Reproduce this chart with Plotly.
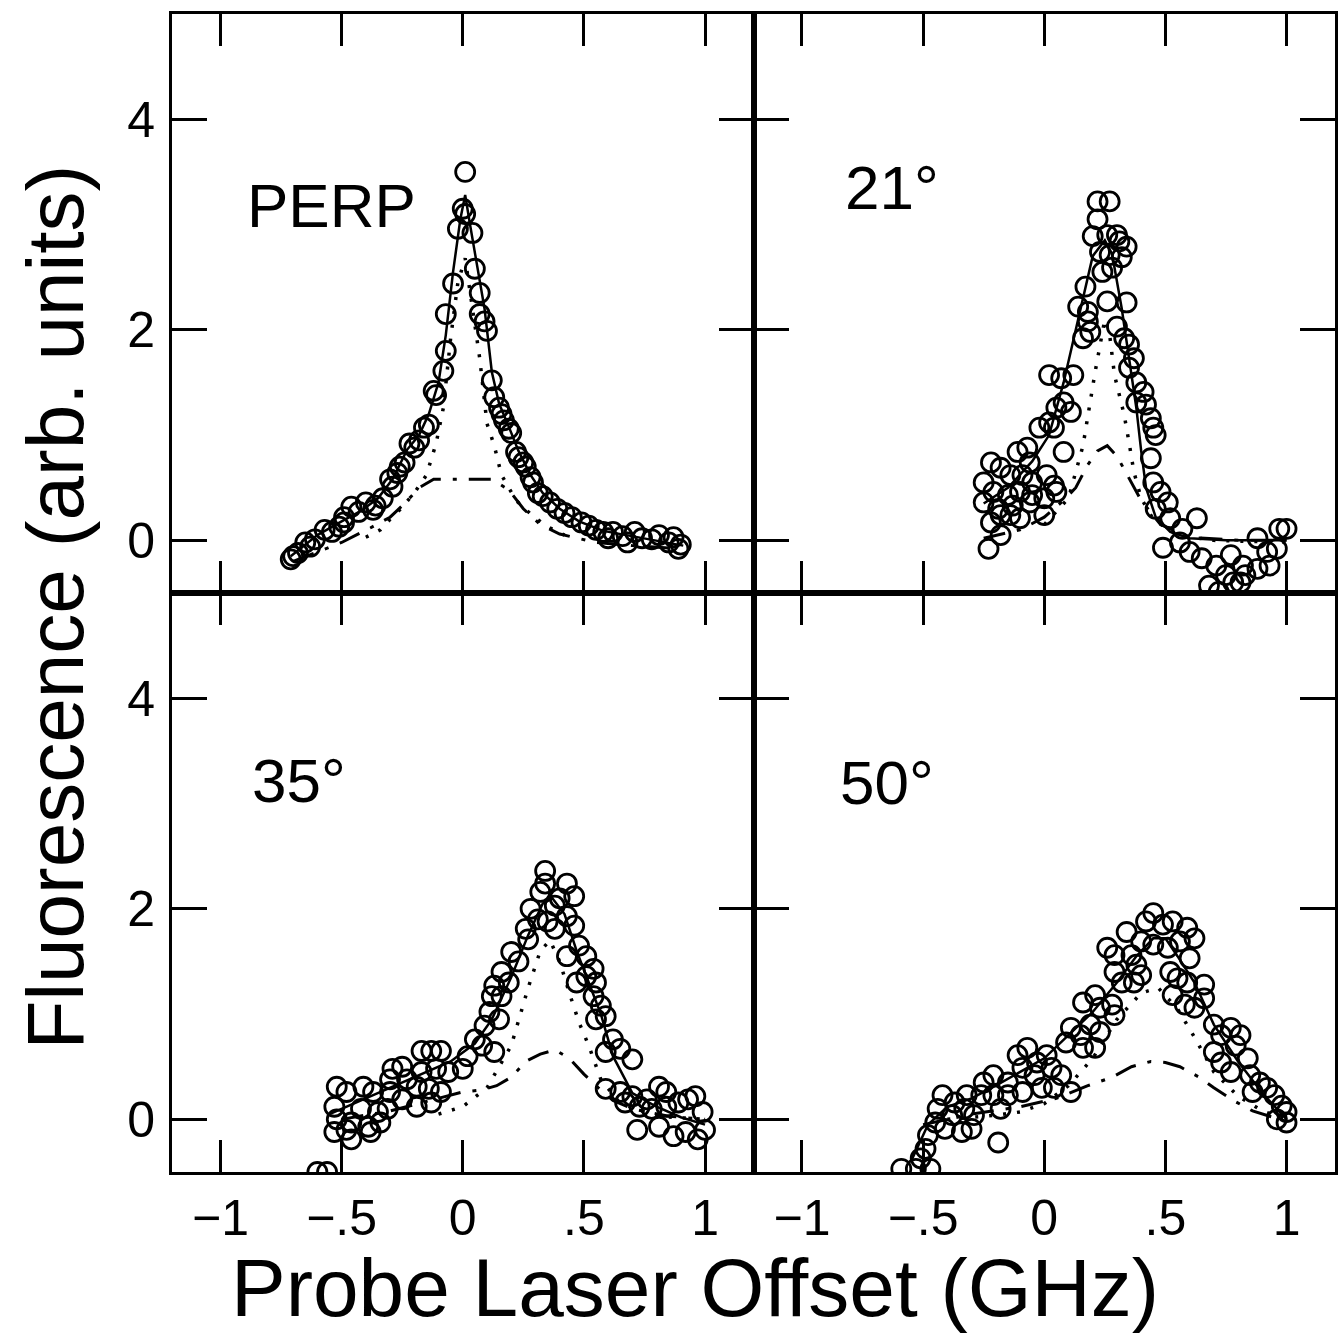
import plotly.graph_objects as go
from plotly.subplots import make_subplots

# ---------------- data ----------------
panel_labels = ["PERP", "21°", "35°", "50°"]
x_tickvals = [-1, -0.5, 0, 0.5, 1]
x_ticktext = ["\u22121", "\u2212.5", "0", ".5", "1"]
y_tickvals = [0, 2, 4]
y_ticktext = ["0", "2", "4"]

perp_pts = [(0.01,3.50),(0.0,3.15),(0.01,3.10),(-0.02,2.96),(0.04,2.92),(0.05,2.58),(-0.04,2.44),
            (0.07,2.35),(-0.07,2.15),(0.07,2.15),(0.09,2.08),(0.10,1.99),(-0.07,1.80),(-0.08,1.61),
            (0.12,1.52),(-0.12,1.42),(-0.11,1.38),(0.13,1.36),(0.15,1.26),(0.16,1.20),(-0.16,1.07),
            (-0.14,1.10),(0.17,1.14),(0.20,1.02),(0.19,1.06),(-0.22,0.92),(-0.18,0.95),(-0.20,0.88),
            (0.23,0.79),(0.22,0.84),(0.26,0.70),(0.25,0.74),(-0.26,0.70),(-0.24,0.74),(-0.27,0.64),
            (-0.30,0.58),(-0.29,0.51),(0.29,0.55),(0.28,0.60),(0.31,0.45),(0.33,0.42),(-0.33,0.40),
            (-0.36,0.33),(-0.46,0.32),(-0.40,0.36),(-0.37,0.29),(-0.43,0.27),(-0.49,0.22),(0.36,0.36),
            (0.39,0.30),(0.42,0.26),(0.45,0.22),(-0.57,0.10),(-0.51,0.13),(-0.49,0.17),(-0.54,0.08),
            (0.49,0.17),(0.52,0.14),(0.55,0.10),(0.58,0.08),(0.62,0.08),(0.66,0.04),(-0.65,-0.02),
            (-0.61,0.01),(-0.63,-0.06),(-0.70,-0.15),(-0.71,-0.18),(-0.68,-0.12),(0.71,0.08),(0.74,0.02),
            (0.78,0.01),(0.81,0.05),(0.85,-0.02),(0.87,0.03),(0.89,-0.08),(0.90,-0.04),(0.68,-0.02),(0.60,0.02)]
perp_fit_x = [-0.71,-0.6,-0.5,-0.42,-0.35,-0.29,-0.23,-0.18,-0.14,-0.10,-0.07,-0.04,-0.01,0.01,0.03,0.06,0.09,0.12,0.15,0.19,0.23,0.28,0.33,0.40,0.48,0.58,0.70,0.80,0.91]
perp_fit_y = [-0.15,0.05,0.18,0.28,0.40,0.58,0.86,1.0,1.2,1.5,1.95,2.55,3.05,3.28,3.0,2.6,2.2,1.6,1.3,1.08,0.85,0.62,0.45,0.30,0.18,0.09,0.04,0.0,-0.05]
perp_narrow_x = [-0.40,-0.34,-0.30,-0.26,-0.20,-0.15,-0.11,-0.08,-0.05,-0.02,0.01,0.04,0.07,0.10,0.13,0.16,0.22,0.29,0.35,0.42]
perp_narrow_y = [0.03,0.10,0.20,0.29,0.45,0.62,0.92,1.26,1.92,2.45,2.68,2.2,1.73,1.11,0.9,0.62,0.38,0.23,0.13,0.05]
perp_broad_x = [-0.70,-0.5,-0.38,-0.3,-0.24,-0.18,-0.12,0.0,0.12,0.19,0.25,0.32,0.40,0.55,0.7,0.9]
perp_broad_y = [-0.2,-0.02,0.12,0.22,0.35,0.50,0.58,0.58,0.58,0.48,0.30,0.15,0.06,-0.02,-0.05,-0.08]

a21_pts = [(0.22,3.22),(0.27,3.22),(0.22,3.05),(0.20,2.89),(0.26,2.90),(0.30,2.90),(0.31,2.84),(0.23,2.74),
           (0.27,2.71),(0.32,2.69),(0.34,2.79),(0.24,2.55),(0.28,2.59),(0.17,2.41),(0.26,2.27),(0.34,2.26),
           (0.14,2.22),(0.18,2.17),(0.18,2.08),(0.19,1.98),(0.16,1.92),(0.30,2.03),(0.33,1.92),(0.35,1.86),
           (0.37,1.73),(0.35,1.64),(0.02,1.57),(0.07,1.54),(0.12,1.57),(0.38,1.50),(0.41,1.41),(0.38,1.31),
           (0.42,1.29),(0.08,1.31),(0.11,1.22),(0.05,1.26),(0.44,1.16),(0.45,1.07),(0.46,1.00),(-0.02,1.07),
           (0.02,1.12),(0.04,1.07),(0.08,0.84),(-0.11,0.84),(-0.07,0.88),(-0.06,0.74),(0.44,0.78),(-0.22,0.74),
           (-0.18,0.69),(-0.14,0.62),(-0.09,0.62),(-0.05,0.55),(0.01,0.62),(0.04,0.52),(-0.25,0.55),(-0.21,0.46),
           (-0.15,0.43),(-0.10,0.46),(-0.05,0.43),(0.00,0.40),(0.05,0.46),(-0.25,0.36),(-0.19,0.30),(-0.13,0.33),
           (-0.06,0.36),(0.00,0.24),(-0.22,0.17),(-0.18,0.24),(-0.14,0.24),(-0.10,0.21),(-0.18,0.05),(-0.23,-0.08),
           (0.45,0.55),(0.48,0.46),(0.51,0.36),(0.46,0.30),(0.52,0.21),(0.57,0.11),(0.63,0.21),(0.56,-0.02),
           (0.49,-0.07),(0.60,-0.11),(0.65,-0.17),(0.71,-0.24),(0.77,-0.14),(0.75,-0.33),(0.68,-0.43),(0.72,-0.49),
           (0.81,-0.40),(0.88,0.02),(0.92,-0.11),(0.97,0.11),(1.00,0.11),(0.96,-0.08),(0.88,-0.27),(0.93,-0.24),
           (0.82,-0.24),(0.83,-0.33),(0.78,-0.40)]
a21_fit_x = [-0.25,-0.15,-0.05,0.02,0.08,0.14,0.20,0.25,0.28,0.32,0.35,0.38,0.40,0.42,0.46,0.52,0.60,0.75,1.0]
a21_fit_y = [0.35,0.50,0.75,1.0,1.5,2.1,2.7,2.85,2.72,2.2,1.75,1.26,0.85,0.5,0.22,0.08,0.02,0.0,0.0]
a21_narrow_x = [0.0,0.1,0.16,0.21,0.25,0.27,0.29,0.31,0.33,0.35,0.37,0.40,0.45,0.55,0.7,1.0]
a21_narrow_y = [0.15,0.4,0.9,1.6,2.1,1.95,1.57,1.38,1.19,0.93,0.65,0.4,0.2,0.05,0.0,-0.02]
a21_broad_x = [-0.25,-0.1,0.0,0.08,0.13,0.18,0.22,0.26,0.30,0.35,0.40,0.48,0.6,0.8,1.0]
a21_broad_y = [0.02,0.1,0.22,0.38,0.5,0.72,0.85,0.9,0.8,0.59,0.38,0.15,0.03,0.0,0.0]

a35_pts = [(0.34,2.36),(0.34,2.24),(0.32,2.16),(0.43,2.24),(0.46,2.12),(0.40,2.10),(0.38,2.03),(0.28,2.00),
           (0.31,1.90),(0.43,1.93),(0.46,1.84),(0.35,1.88),(0.38,1.81),(0.26,1.81),(0.27,1.71),(0.48,1.65),
           (0.51,1.55),(0.43,1.55),(0.20,1.59),(0.23,1.50),(0.54,1.43),(0.51,1.36),(0.47,1.30),(0.55,1.30),
           (0.16,1.40),(0.19,1.30),(0.13,1.27),(0.16,1.17),(0.12,1.17),(0.54,1.17),(0.57,1.08),(0.59,0.98),
           (0.55,0.95),(0.11,1.02),(0.15,0.95),(0.09,0.89),(0.62,0.76),(0.65,0.67),(0.59,0.64),(0.70,0.57),
           (0.05,0.76),(0.08,0.70),(0.13,0.64),(0.02,0.60),(-0.17,0.65),(-0.13,0.65),(-0.09,0.65),(0.00,0.48),
           (-0.06,0.45),(-0.11,0.48),(-0.17,0.45),(-0.29,0.48),(-0.25,0.50),(-0.30,0.38),(-0.23,0.38),(-0.19,0.31),
           (-0.14,0.29),(-0.09,0.26),(-0.30,0.26),(-0.25,0.19),(-0.19,0.12),(-0.13,0.16),(0.59,0.29),(0.65,0.26),
           (0.70,0.22),(0.76,0.19),(0.81,0.31),(0.84,0.26),(0.67,0.16),(0.73,0.12),(0.78,0.10),(0.84,0.12),
           (0.89,0.16),(0.93,0.19),(0.96,0.22),(0.72,-0.10),(0.81,-0.07),(0.87,-0.16),(0.92,-0.12),(0.97,-0.19),
           (1.00,-0.10),(0.99,0.07),(-0.52,0.31),(-0.48,0.26),(-0.41,0.31),(-0.37,0.26),(-0.53,0.12),(-0.42,0.10),
           (-0.35,0.07),(-0.31,0.10),(-0.52,0.00),(-0.46,-0.03),(-0.39,-0.07),(-0.34,-0.03),(-0.53,-0.12),
           (-0.46,-0.19),(-0.38,-0.12),(-0.48,-0.10),(-0.60,-0.50),(-0.56,-0.50)]
a35_fit_x = [-0.55,-0.45,-0.35,-0.25,-0.15,-0.05,0.05,0.12,0.2,0.27,0.33,0.37,0.42,0.47,0.52,0.57,0.62,0.7,0.8,0.9,1.0]
a35_fit_y = [0.05,0.15,0.25,0.35,0.45,0.55,0.72,0.95,1.35,1.75,2.05,2.1,1.95,1.6,1.3,1.0,0.6,0.25,0.12,0.02,-0.05]
a35_narrow_x = [-0.1,0.0,0.1,0.2,0.27,0.32,0.36,0.40,0.44,0.48,0.52,0.57,0.65,0.8,1.0]
a35_narrow_y = [0.05,0.12,0.3,0.7,1.25,1.6,1.7,1.5,1.2,0.92,0.7,0.38,0.15,0.03,0.0]
a35_broad_x = [-0.5,-0.3,-0.1,0.0,0.08,0.14,0.2,0.26,0.32,0.38,0.44,0.50,0.56,0.62,0.7,0.85,1.0]
a35_broad_y = [0.0,0.08,0.2,0.26,0.28,0.32,0.4,0.55,0.62,0.66,0.58,0.43,0.3,0.18,0.1,0.03,0.0]

a50_pts = [(0.45,1.96),(0.42,1.88),(0.49,1.85),(0.53,1.88),(0.34,1.78),(0.59,1.82),(0.62,1.72),(0.40,1.69),
           (0.45,1.66),(0.51,1.63),(0.56,1.69),(0.60,1.53),(0.26,1.63),(0.29,1.56),(0.36,1.56),(0.38,1.47),
           (0.52,1.40),(0.55,1.34),(0.59,1.30),(0.66,1.28),(0.29,1.40),(0.32,1.30),(0.37,1.30),(0.40,1.37),
           (0.53,1.18),(0.58,1.09),(0.62,1.06),(0.66,1.15),(0.16,1.11),(0.21,1.18),(0.23,1.06),(0.28,1.09),
           (0.29,0.99),(0.70,0.90),(0.73,0.80),(0.77,0.87),(0.81,0.80),(0.79,0.70),(0.11,0.87),(0.15,0.80),
           (0.19,0.90),(0.23,0.83),(0.09,0.73),(0.16,0.68),(0.21,0.68),(0.70,0.64),(0.73,0.54),(0.84,0.58),
           (0.77,0.45),(0.85,0.42),(0.89,0.35),(0.92,0.30),(0.86,0.26),(0.95,0.23),(0.98,0.13),(1.00,0.07),
           (0.96,0.00),(1.00,-0.03),(-0.11,0.61),(-0.07,0.68),(-0.03,0.54),(0.01,0.61),(-0.09,0.49),(-0.04,0.42),
           (0.03,0.49),(0.07,0.42),(0.11,0.26),(0.04,0.30),(-0.01,0.30),(-0.25,0.35),(-0.21,0.42),(-0.15,0.35),
           (-0.26,0.23),(-0.21,0.23),(-0.15,0.23),(-0.09,0.26),(-0.18,0.10),(-0.42,0.23),(-0.37,0.16),(-0.32,0.23),
           (-0.44,0.10),(-0.38,0.04),(-0.33,0.10),(-0.29,0.04),(-0.41,-0.09),(-0.34,-0.12),(-0.30,-0.09),
           (-0.45,-0.03),(-0.19,-0.22),(-0.48,-0.15),(-0.49,-0.28),(-0.51,-0.37),(-0.59,-0.47),(-0.53,-0.47),
           (-0.47,-0.47)]
a50_fit_x = [-0.55,-0.48,-0.4,-0.3,-0.2,-0.1,0.0,0.1,0.2,0.3,0.38,0.45,0.5,0.55,0.62,0.7,0.8,0.9,1.0]
a50_fit_y = [-0.4,-0.05,0.12,0.2,0.32,0.45,0.58,0.8,1.02,1.3,1.55,1.72,1.72,1.55,1.3,0.9,0.55,0.25,0.0]
a50_narrow_x = [-0.4,-0.2,-0.1,0.0,0.1,0.2,0.3,0.4,0.47,0.55,0.62,0.7,0.8,0.9,1.0]
a50_narrow_y = [0.0,0.04,0.07,0.15,0.32,0.58,0.95,1.2,1.25,1.05,0.78,0.45,0.22,0.08,0.0]
a50_broad_x = [-0.5,-0.3,-0.1,0.05,0.18,0.28,0.36,0.44,0.5,0.56,0.64,0.70,0.78,0.86,1.0]
a50_broad_y = [-0.05,0.05,0.12,0.2,0.32,0.4,0.5,0.55,0.54,0.5,0.4,0.3,0.18,0.08,-0.02]

# ---------------- figure ----------------
FONT = "Liberation Sans, Arial, sans-serif"
fig = make_subplots(rows=2, cols=2, horizontal_spacing=0, vertical_spacing=0)

panels = [
    (1, 1, perp_pts, perp_fit_x, perp_fit_y, perp_narrow_x, perp_narrow_y, perp_broad_x, perp_broad_y),
    (1, 2, a21_pts, a21_fit_x, a21_fit_y, a21_narrow_x, a21_narrow_y, a21_broad_x, a21_broad_y),
    (2, 1, a35_pts, a35_fit_x, a35_fit_y, a35_narrow_x, a35_narrow_y, a35_broad_x, a35_broad_y),
    (2, 2, a50_pts, a50_fit_x, a50_fit_y, a50_narrow_x, a50_narrow_y, a50_broad_x, a50_broad_y),
]

for r, c, pts, fx, fy, nx, ny, bx, by in panels:
    fig.add_trace(go.Scatter(x=bx, y=by, mode="lines",
                             line=dict(color="black", width=3, dash="22px,12px,4px,12px"),
                             showlegend=False), row=r, col=c)
    fig.add_trace(go.Scatter(x=nx, y=ny, mode="lines",
                             line=dict(color="black", width=3.5, dash="3px,11px"),
                             showlegend=False), row=r, col=c)
    fig.add_trace(go.Scatter(x=fx, y=fy, mode="lines",
                             line=dict(color="black", width=2.5),
                             showlegend=False), row=r, col=c)
    fig.add_trace(go.Scatter(x=[p[0] for p in pts], y=[p[1] for p in pts], mode="markers",
                             marker=dict(symbol="circle-open", size=19, color="black",
                                         line=dict(color="black", width=2.8)),
                             showlegend=False), row=r, col=c)

for r in (1, 2):
    for c in (1, 2):
        fig.update_xaxes(row=r, col=c, range=[-1.2, 1.2], tickvals=x_tickvals, ticktext=x_ticktext,
                         ticks="inside", ticklen=32, tickwidth=3, tickcolor="black",
                         showline=True, linewidth=3, linecolor="black", mirror="ticks",
                         showgrid=False, zeroline=False, showticklabels=(r == 2),
                         tickfont=dict(family=FONT, size=50, color="black"))
        fig.update_yaxes(row=r, col=c, range=[-0.5, 5], tickvals=y_tickvals, ticktext=y_ticktext,
                         ticks="inside", ticklen=35, tickwidth=3, tickcolor="black",
                         showline=True, linewidth=3, linecolor="black", mirror="ticks",
                         showgrid=False, zeroline=False, showticklabels=(c == 1),
                         ticklabelstandoff=4,
                         tickfont=dict(family=FONT, size=50, color="black"))

label_pos = [("x domain", "y domain", 0.125, 0.67), ("x2 domain", "y2 domain", 0.154, 0.70),
             ("x3 domain", "y3 domain", 0.134, 0.677), ("x4 domain", "y4 domain", 0.146, 0.672)]
for text, (xr, yr, px, py) in zip(panel_labels, label_pos):
    fig.add_annotation(text=text, xref=xr, yref=yr, x=px, y=py, xanchor="left", yanchor="middle",
                       showarrow=False, font=dict(family=FONT, size=62, color="black"))

fig.add_annotation(text="Probe Laser Offset (GHz)", xref="paper", yref="paper", x=0.45, y=-0.100,
                   xanchor="center", yanchor="middle", showarrow=False,
                   font=dict(family=FONT, size=82, color="black"))
fig.add_annotation(text="Fluorescence (arb. units)", xref="paper", yref="paper", x=-0.100, y=0.488,
                   xanchor="center", yanchor="middle", textangle=-90, showarrow=False,
                   font=dict(family=FONT, size=80, color="black"))

fig.update_layout(width=1343, height=1340, margin=dict(l=172, r=5, t=14, b=168),
                  paper_bgcolor="white", plot_bgcolor="white",
                  font=dict(family=FONT, color="black"))

fig.write_html("out.html")
